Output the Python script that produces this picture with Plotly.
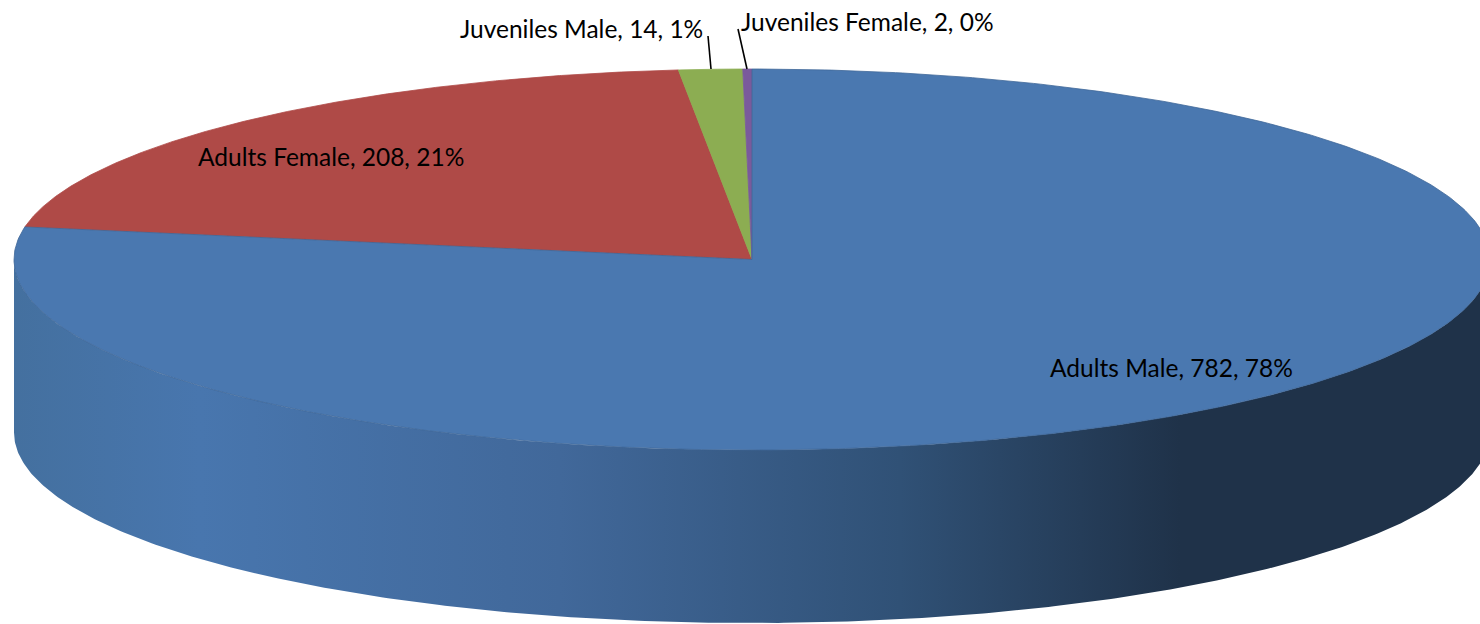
import numpy as np
import plotly.graph_objects as go

categories = ["Adults Male", "Adults Female", "Juveniles Male", "Juveniles Female"]
values = [782, 208, 14, 2]
percents = ["78%", "21%", "1%", "0%"]

colors = ["#4A78B0", "#AF4A47", "#8CAD52", "#7A5A9C"]
edges = ["#3F6798", "#AF4A47", "#8CAD52", "#7A5A9C"]
label_x = [1048, 196, 458, 739]
label_y = [367, 156, 28, 21]
leaders = [None, None, ((708, 36), (711, 69)), ((738, 29), (747, 69))]

CX, CY, RX, RY, DEPTH = 752, 259.5, 738, 190.5, 173
side_stops = [(14, "#44709F"), (200, "#4876AE"), (560, "#41689A"), (900, "#305176"),
              (1180, "#1F3249"), (1480, "#1F3249")]


def ell(a):
    return CX + RX * np.sin(a), CY - RY * np.cos(a)


fig = go.Figure()

# side wall: front half of the rim, extruded downward
t = np.linspace(np.pi / 2, 3 * np.pi / 2, 400)
xs, ys = ell(t)
span = side_stops[-1][0] - side_stops[0][0]
fig.add_trace(go.Scatter(
    x=np.r_[xs, xs[::-1]], y=np.r_[ys, ys[::-1] + DEPTH],
    mode="lines", line=dict(width=0), fill="toself", hoverinfo="skip",
    fillgradient=dict(type="horizontal", start=side_stops[0][0], stop=side_stops[-1][0],
                      colorscale=[[(p - side_stops[0][0]) / span, c] for p, c in side_stops]),
    showlegend=False))

# top face: wedges run clockwise from 12 o'clock
total = sum(values)
ends = 2 * np.pi * np.cumsum(values) / total
starts = np.r_[0, ends[:-1]]
for i in [1, 2, 3, 0]:
    a = np.linspace(starts[i], ends[i], 500)
    ex, ey = ell(a)
    fig.add_trace(go.Scatter(
        x=np.r_[CX, ex, CX], y=np.r_[CY, ey, CY],
        mode="lines", line=dict(width=0.8, color=edges[i]), fill="toself",
        fillcolor=colors[i], name=categories[i], hoverinfo="name", showlegend=False))

# labels
for i, c in enumerate(categories):
    fig.add_annotation(x=label_x[i], y=label_y[i], xanchor="left", yanchor="middle",
                       text=f"{c}, {values[i]}, {percents[i]}", showarrow=False,
                       font=dict(family="Lato, Carlito, sans-serif", size=24.5, color="#000000"))
    if leaders[i]:
        (x0, y0), (x1, y1) = leaders[i]
        fig.add_shape(type="line", x0=x0, y0=y0, x1=x1, y1=y1,
                      line=dict(color="#000000", width=1.6))

fig.update_layout(
    width=1480, height=624, margin=dict(l=0, r=0, t=0, b=0),
    paper_bgcolor="#FFFFFF", plot_bgcolor="#FFFFFF", showlegend=False,
    xaxis=dict(range=[0, 1480], visible=False, fixedrange=True),
    yaxis=dict(range=[624, 0], visible=False, fixedrange=True),
)
fig.write_html("out.html", config=dict(displayModeBar=False),
               post_script="document.body.style.margin='0';document.documentElement.style.overflow='hidden';")
